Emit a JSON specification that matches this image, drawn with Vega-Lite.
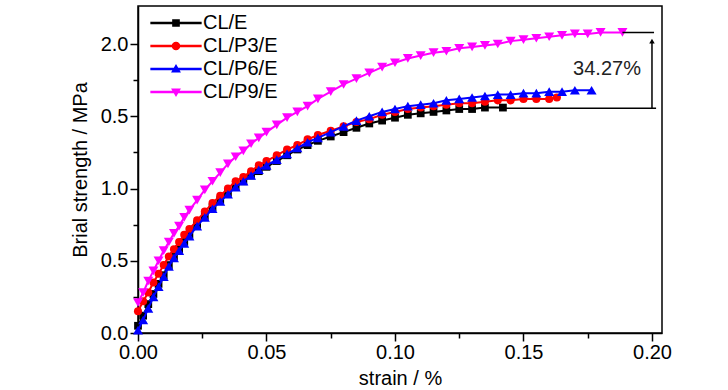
{
  "$schema": "https://vega.github.io/schema/vega-lite/v6.json",
  "width": 524,
  "height": 327,
  "autosize": "none",
  "padding": {"left": 138, "top": 6, "right": 66, "bottom": 57},
  "config": {
    "view": {"stroke": "black", "strokeWidth": 1.5},
    "font": "Liberation Sans",
    "axis": {
      "grid": false,
      "domainColor": "black",
      "domainWidth": 1.5,
      "tickColor": "black",
      "tickWidth": 1.5,
      "labelColor": "black",
      "labelFontSize": 20,
      "labelFont": "Liberation Sans",
      "titleFont": "Liberation Sans",
      "titleFontSize": 20,
      "titleFontWeight": "normal",
      "titleColor": "black",
      "labelFlush": false,
      "labelOverlap": false
    },
    "legend": {
      "title": null,
      "orient": "none",
      "legendX": 28,
      "legendY": 7,
      "padding": 0,
      "symbolSize": 81,
      "symbolOpacity": 1,
      "symbolStrokeWidth": 0,
      "labelFontSize": 20,
      "labelFont": "Liberation Sans",
      "labelColor": "black",
      "labelOffset": 17,
      "rowPadding": 3
    }
  },
  "datasets": {
    "curves": [
      {"series": "CL/E", "strain": 0, "stress": 0.05},
      {"series": "CL/E", "strain": 0.002, "stress": 0.12},
      {"series": "CL/E", "strain": 0.004, "stress": 0.2},
      {"series": "CL/E", "strain": 0.006, "stress": 0.27},
      {"series": "CL/E", "strain": 0.008, "stress": 0.34},
      {"series": "CL/E", "strain": 0.01, "stress": 0.4},
      {"series": "CL/E", "strain": 0.012, "stress": 0.47},
      {"series": "CL/E", "strain": 0.014, "stress": 0.53},
      {"series": "CL/E", "strain": 0.016, "stress": 0.58},
      {"series": "CL/E", "strain": 0.018, "stress": 0.63},
      {"series": "CL/E", "strain": 0.02, "stress": 0.68},
      {"series": "CL/E", "strain": 0.023, "stress": 0.75},
      {"series": "CL/E", "strain": 0.026, "stress": 0.81},
      {"series": "CL/E", "strain": 0.029, "stress": 0.87},
      {"series": "CL/E", "strain": 0.032, "stress": 0.92},
      {"series": "CL/E", "strain": 0.035, "stress": 0.97},
      {"series": "CL/E", "strain": 0.038, "stress": 1.01},
      {"series": "CL/E", "strain": 0.041, "stress": 1.05},
      {"series": "CL/E", "strain": 0.044, "stress": 1.09},
      {"series": "CL/E", "strain": 0.047, "stress": 1.12},
      {"series": "CL/E", "strain": 0.05, "stress": 1.15},
      {"series": "CL/E", "strain": 0.054, "stress": 1.19},
      {"series": "CL/E", "strain": 0.058, "stress": 1.23},
      {"series": "CL/E", "strain": 0.062, "stress": 1.27},
      {"series": "CL/E", "strain": 0.066, "stress": 1.3},
      {"series": "CL/E", "strain": 0.07, "stress": 1.33},
      {"series": "CL/E", "strain": 0.075, "stress": 1.36},
      {"series": "CL/E", "strain": 0.08, "stress": 1.39},
      {"series": "CL/E", "strain": 0.085, "stress": 1.42},
      {"series": "CL/E", "strain": 0.09, "stress": 1.45},
      {"series": "CL/E", "strain": 0.095, "stress": 1.47},
      {"series": "CL/E", "strain": 0.1, "stress": 1.49},
      {"series": "CL/E", "strain": 0.105, "stress": 1.51},
      {"series": "CL/E", "strain": 0.11, "stress": 1.52},
      {"series": "CL/E", "strain": 0.115, "stress": 1.53},
      {"series": "CL/E", "strain": 0.12, "stress": 1.54},
      {"series": "CL/E", "strain": 0.125, "stress": 1.55},
      {"series": "CL/E", "strain": 0.13, "stress": 1.55},
      {"series": "CL/E", "strain": 0.135, "stress": 1.56},
      {"series": "CL/E", "strain": 0.142, "stress": 1.56},

      {"series": "CL/P3/E", "strain": 0, "stress": 0.15},
      {"series": "CL/P3/E", "strain": 0.002, "stress": 0.22},
      {"series": "CL/P3/E", "strain": 0.004, "stress": 0.28},
      {"series": "CL/P3/E", "strain": 0.006, "stress": 0.35},
      {"series": "CL/P3/E", "strain": 0.008, "stress": 0.41},
      {"series": "CL/P3/E", "strain": 0.01, "stress": 0.47},
      {"series": "CL/P3/E", "strain": 0.012, "stress": 0.53},
      {"series": "CL/P3/E", "strain": 0.014, "stress": 0.58},
      {"series": "CL/P3/E", "strain": 0.016, "stress": 0.63},
      {"series": "CL/P3/E", "strain": 0.018, "stress": 0.68},
      {"series": "CL/P3/E", "strain": 0.02, "stress": 0.72},
      {"series": "CL/P3/E", "strain": 0.023, "stress": 0.78},
      {"series": "CL/P3/E", "strain": 0.026, "stress": 0.84},
      {"series": "CL/P3/E", "strain": 0.029, "stress": 0.9},
      {"series": "CL/P3/E", "strain": 0.032, "stress": 0.95},
      {"series": "CL/P3/E", "strain": 0.035, "stress": 1.0},
      {"series": "CL/P3/E", "strain": 0.038, "stress": 1.05},
      {"series": "CL/P3/E", "strain": 0.041, "stress": 1.08},
      {"series": "CL/P3/E", "strain": 0.044, "stress": 1.12},
      {"series": "CL/P3/E", "strain": 0.047, "stress": 1.16},
      {"series": "CL/P3/E", "strain": 0.05, "stress": 1.19},
      {"series": "CL/P3/E", "strain": 0.054, "stress": 1.23},
      {"series": "CL/P3/E", "strain": 0.058, "stress": 1.27},
      {"series": "CL/P3/E", "strain": 0.062, "stress": 1.3},
      {"series": "CL/P3/E", "strain": 0.066, "stress": 1.34},
      {"series": "CL/P3/E", "strain": 0.07, "stress": 1.37},
      {"series": "CL/P3/E", "strain": 0.075, "stress": 1.4},
      {"series": "CL/P3/E", "strain": 0.08, "stress": 1.43},
      {"series": "CL/P3/E", "strain": 0.085, "stress": 1.46},
      {"series": "CL/P3/E", "strain": 0.09, "stress": 1.48},
      {"series": "CL/P3/E", "strain": 0.095, "stress": 1.51},
      {"series": "CL/P3/E", "strain": 0.1, "stress": 1.53},
      {"series": "CL/P3/E", "strain": 0.105, "stress": 1.55},
      {"series": "CL/P3/E", "strain": 0.11, "stress": 1.56},
      {"series": "CL/P3/E", "strain": 0.115, "stress": 1.57},
      {"series": "CL/P3/E", "strain": 0.12, "stress": 1.58},
      {"series": "CL/P3/E", "strain": 0.125, "stress": 1.59},
      {"series": "CL/P3/E", "strain": 0.13, "stress": 1.59},
      {"series": "CL/P3/E", "strain": 0.135, "stress": 1.6},
      {"series": "CL/P3/E", "strain": 0.14, "stress": 1.61},
      {"series": "CL/P3/E", "strain": 0.145, "stress": 1.61},
      {"series": "CL/P3/E", "strain": 0.15, "stress": 1.62},
      {"series": "CL/P3/E", "strain": 0.155, "stress": 1.62},
      {"series": "CL/P3/E", "strain": 0.16, "stress": 1.62},
      {"series": "CL/P3/E", "strain": 0.163, "stress": 1.63},

      {"series": "CL/P6/E", "strain": 0, "stress": 0.02},
      {"series": "CL/P6/E", "strain": 0.002, "stress": 0.09},
      {"series": "CL/P6/E", "strain": 0.004, "stress": 0.17},
      {"series": "CL/P6/E", "strain": 0.006, "stress": 0.25},
      {"series": "CL/P6/E", "strain": 0.008, "stress": 0.32},
      {"series": "CL/P6/E", "strain": 0.01, "stress": 0.39},
      {"series": "CL/P6/E", "strain": 0.012, "stress": 0.46},
      {"series": "CL/P6/E", "strain": 0.014, "stress": 0.52},
      {"series": "CL/P6/E", "strain": 0.016, "stress": 0.57},
      {"series": "CL/P6/E", "strain": 0.018, "stress": 0.62},
      {"series": "CL/P6/E", "strain": 0.02, "stress": 0.67},
      {"series": "CL/P6/E", "strain": 0.023, "stress": 0.74},
      {"series": "CL/P6/E", "strain": 0.026, "stress": 0.8},
      {"series": "CL/P6/E", "strain": 0.029, "stress": 0.86},
      {"series": "CL/P6/E", "strain": 0.032, "stress": 0.91},
      {"series": "CL/P6/E", "strain": 0.035, "stress": 0.96},
      {"series": "CL/P6/E", "strain": 0.038, "stress": 1.01},
      {"series": "CL/P6/E", "strain": 0.041, "stress": 1.05},
      {"series": "CL/P6/E", "strain": 0.044, "stress": 1.09},
      {"series": "CL/P6/E", "strain": 0.047, "stress": 1.13},
      {"series": "CL/P6/E", "strain": 0.05, "stress": 1.16},
      {"series": "CL/P6/E", "strain": 0.054, "stress": 1.2},
      {"series": "CL/P6/E", "strain": 0.058, "stress": 1.24},
      {"series": "CL/P6/E", "strain": 0.062, "stress": 1.28},
      {"series": "CL/P6/E", "strain": 0.066, "stress": 1.32},
      {"series": "CL/P6/E", "strain": 0.07, "stress": 1.35},
      {"series": "CL/P6/E", "strain": 0.075, "stress": 1.39},
      {"series": "CL/P6/E", "strain": 0.08, "stress": 1.43},
      {"series": "CL/P6/E", "strain": 0.085, "stress": 1.47},
      {"series": "CL/P6/E", "strain": 0.09, "stress": 1.5},
      {"series": "CL/P6/E", "strain": 0.095, "stress": 1.53},
      {"series": "CL/P6/E", "strain": 0.1, "stress": 1.55},
      {"series": "CL/P6/E", "strain": 0.105, "stress": 1.57},
      {"series": "CL/P6/E", "strain": 0.11, "stress": 1.58},
      {"series": "CL/P6/E", "strain": 0.115, "stress": 1.59},
      {"series": "CL/P6/E", "strain": 0.12, "stress": 1.61},
      {"series": "CL/P6/E", "strain": 0.125, "stress": 1.62},
      {"series": "CL/P6/E", "strain": 0.13, "stress": 1.63},
      {"series": "CL/P6/E", "strain": 0.135, "stress": 1.64},
      {"series": "CL/P6/E", "strain": 0.14, "stress": 1.65},
      {"series": "CL/P6/E", "strain": 0.145, "stress": 1.65},
      {"series": "CL/P6/E", "strain": 0.15, "stress": 1.66},
      {"series": "CL/P6/E", "strain": 0.155, "stress": 1.66},
      {"series": "CL/P6/E", "strain": 0.16, "stress": 1.67},
      {"series": "CL/P6/E", "strain": 0.165, "stress": 1.67},
      {"series": "CL/P6/E", "strain": 0.17, "stress": 1.68},
      {"series": "CL/P6/E", "strain": 0.1765, "stress": 1.68},

      {"series": "CL/P9/E", "strain": 0, "stress": 0.21},
      {"series": "CL/P9/E", "strain": 0.002, "stress": 0.28},
      {"series": "CL/P9/E", "strain": 0.004, "stress": 0.36},
      {"series": "CL/P9/E", "strain": 0.006, "stress": 0.43},
      {"series": "CL/P9/E", "strain": 0.008, "stress": 0.5},
      {"series": "CL/P9/E", "strain": 0.01, "stress": 0.57},
      {"series": "CL/P9/E", "strain": 0.012, "stress": 0.63},
      {"series": "CL/P9/E", "strain": 0.014, "stress": 0.69},
      {"series": "CL/P9/E", "strain": 0.016, "stress": 0.74},
      {"series": "CL/P9/E", "strain": 0.018, "stress": 0.8},
      {"series": "CL/P9/E", "strain": 0.02, "stress": 0.85},
      {"series": "CL/P9/E", "strain": 0.023, "stress": 0.92},
      {"series": "CL/P9/E", "strain": 0.026, "stress": 0.99},
      {"series": "CL/P9/E", "strain": 0.029, "stress": 1.05},
      {"series": "CL/P9/E", "strain": 0.032, "stress": 1.11},
      {"series": "CL/P9/E", "strain": 0.035, "stress": 1.17},
      {"series": "CL/P9/E", "strain": 0.038, "stress": 1.22},
      {"series": "CL/P9/E", "strain": 0.041, "stress": 1.26},
      {"series": "CL/P9/E", "strain": 0.044, "stress": 1.31},
      {"series": "CL/P9/E", "strain": 0.047, "stress": 1.35},
      {"series": "CL/P9/E", "strain": 0.05, "stress": 1.39},
      {"series": "CL/P9/E", "strain": 0.054, "stress": 1.44},
      {"series": "CL/P9/E", "strain": 0.058, "stress": 1.49},
      {"series": "CL/P9/E", "strain": 0.062, "stress": 1.53},
      {"series": "CL/P9/E", "strain": 0.066, "stress": 1.57},
      {"series": "CL/P9/E", "strain": 0.07, "stress": 1.62},
      {"series": "CL/P9/E", "strain": 0.075, "stress": 1.67},
      {"series": "CL/P9/E", "strain": 0.08, "stress": 1.72},
      {"series": "CL/P9/E", "strain": 0.085, "stress": 1.76},
      {"series": "CL/P9/E", "strain": 0.09, "stress": 1.8},
      {"series": "CL/P9/E", "strain": 0.095, "stress": 1.84},
      {"series": "CL/P9/E", "strain": 0.1, "stress": 1.87},
      {"series": "CL/P9/E", "strain": 0.105, "stress": 1.9},
      {"series": "CL/P9/E", "strain": 0.11, "stress": 1.92},
      {"series": "CL/P9/E", "strain": 0.115, "stress": 1.94},
      {"series": "CL/P9/E", "strain": 0.12, "stress": 1.95},
      {"series": "CL/P9/E", "strain": 0.125, "stress": 1.97},
      {"series": "CL/P9/E", "strain": 0.13, "stress": 1.98},
      {"series": "CL/P9/E", "strain": 0.135, "stress": 1.99},
      {"series": "CL/P9/E", "strain": 0.14, "stress": 2.0},
      {"series": "CL/P9/E", "strain": 0.145, "stress": 2.02},
      {"series": "CL/P9/E", "strain": 0.15, "stress": 2.03},
      {"series": "CL/P9/E", "strain": 0.155, "stress": 2.04},
      {"series": "CL/P9/E", "strain": 0.16, "stress": 2.05},
      {"series": "CL/P9/E", "strain": 0.165, "stress": 2.06},
      {"series": "CL/P9/E", "strain": 0.17, "stress": 2.07},
      {"series": "CL/P9/E", "strain": 0.175, "stress": 2.07},
      {"series": "CL/P9/E", "strain": 0.18, "stress": 2.08},
      {"series": "CL/P9/E", "strain": 0.1885, "stress": 2.08}
    ],
    "notes": [
      {"kind": "rule", "strain": 0.141, "strain2": 0.2016, "stress": 1.555, "stress2": 1.555},
      {"kind": "rule", "strain": 0.1885, "strain2": 0.2008, "stress": 2.08, "stress2": 2.08},
      {"kind": "rule", "strain": 0.2, "strain2": 0.2, "stress": 1.555, "stress2": 2.02},
      {"kind": "head", "strain": 0.2, "stress": 2.02},
      {"kind": "label", "strain": 0.1825, "stress": 1.83, "text": "34.27%"}
    ]
  },
  "encoding": {
    "x": {
      "field": "strain",
      "type": "quantitative",
      "title": "strain / %",
      "scale": {"domain": [0, 0.2039], "nice": false, "zero": false},
      "axis": {
        "values": [0, 0.025, 0.05, 0.075, 0.1, 0.125, 0.15, 0.175, 0.2],
        "labelExpr": "abs(datum.value*20-round(datum.value*20))>0.001 ? '' : format(datum.value,'.2f')",
        "tickSize": {"condition": {"test": "abs(datum.value*20-round(datum.value*20))>0.001", "value": 5}, "value": 8},
        "labelPadding": 1,
        "titlePadding": 6
      }
    },
    "y": {
      "field": "stress",
      "type": "quantitative",
      "title": "Brial strength / MPa",
      "scale": {"domain": [0, 2.263], "nice": false, "zero": false},
      "axis": {
        "values": [0, 0.25, 0.5, 0.75, 1, 1.25, 1.5, 1.75, 2],
        "labelExpr": "abs(datum.value*2-round(datum.value*2))>0.001 ? '' : (abs(datum.value-1.5)<0.001 ? '0.5' : format(datum.value,'.1f'))",
        "tickSize": {"condition": {"test": "abs(datum.value*2-round(datum.value*2))>0.001", "value": 5}, "value": 8},
        "labelPadding": 2,
        "titlePadding": 10
      }
    }
  },
  "layer": [
    {
      "data": {"name": "curves"},
      "transform": [{"filter": "datum.series == 'CL/E'"}],
      "mark": {"type": "line", "color": "#000000", "strokeWidth": 2, "point": {"shape": "square", "filled": true, "size": 60, "color": "#000000"}},
      "encoding": {}
    },
    {
      "data": {"name": "curves"},
      "transform": [{"filter": "datum.series == 'CL/P3/E'"}],
      "mark": {"type": "line", "color": "#ff0000", "strokeWidth": 2, "point": {"shape": "circle", "filled": true, "size": 65, "color": "#ff0000"}},
      "encoding": {}
    },
    {
      "data": {"name": "curves"},
      "transform": [{"filter": "datum.series == 'CL/P6/E'"}],
      "mark": {"type": "line", "color": "#0000ff", "strokeWidth": 2, "point": {"shape": "triangle-up", "filled": true, "size": 100, "color": "#0000ff"}},
      "encoding": {}
    },
    {
      "data": {"name": "curves"},
      "transform": [{"filter": "datum.series == 'CL/P9/E'"}],
      "mark": {"type": "line", "color": "#ff00ff", "strokeWidth": 2, "point": {"shape": "triangle-down", "filled": true, "size": 100, "color": "#ff00ff"}},
      "encoding": {}
    },
    {
      "data": {"name": "curves"},
      "mark": {"type": "point", "filled": true, "opacity": 0},
      "encoding": {
        "color": {
          "field": "series",
          "type": "nominal",
          "scale": {"domain": ["CL/E", "CL/P3/E", "CL/P6/E", "CL/P9/E"], "range": ["#000000", "#ff0000", "#0000ff", "#ff00ff"]}
        },
        "shape": {
          "field": "series",
          "type": "nominal",
          "scale": {
            "domain": ["CL/E", "CL/P3/E", "CL/P6/E", "CL/P9/E"],
            "range": [
              "M-5.7,-0.28H5.7V0.28H-5.7ZM-0.85,-0.85H0.85V0.85H-0.85Z",
              "M-5.7,-0.28H5.7V0.28H-5.7ZM-0.95,0A0.95,0.95,0,1,1,0.95,0A0.95,0.95,0,1,1,-0.95,0Z",
              "M-5.7,-0.28H5.7V0.28H-5.7ZM0,-1.1L1.1,0.8H-1.1Z",
              "M-5.7,-0.28H5.7V0.28H-5.7ZM0,1.1L-1.1,-0.8H1.1Z"
            ]
          }
        }
      }
    },
    {
      "data": {"name": "notes"},
      "transform": [{"filter": "datum.kind == 'rule'"}],
      "mark": {"type": "rule", "color": "black", "strokeWidth": 1.5},
      "encoding": {
        "x2": {"field": "strain2"},
        "y2": {"field": "stress2"}
      }
    },
    {
      "data": {"name": "notes"},
      "transform": [{"filter": "datum.kind == 'head'"}],
      "mark": {"type": "point", "shape": "triangle-up", "filled": true, "color": "black", "size": 30, "opacity": 1},
      "encoding": {}
    },
    {
      "data": {"name": "notes"},
      "transform": [{"filter": "datum.kind == 'label'"}],
      "mark": {"type": "text", "fontSize": 20, "font": "Liberation Sans", "color": "#222222", "align": "center", "baseline": "middle"},
      "encoding": {"text": {"field": "text"}}
    }
  ]
}
